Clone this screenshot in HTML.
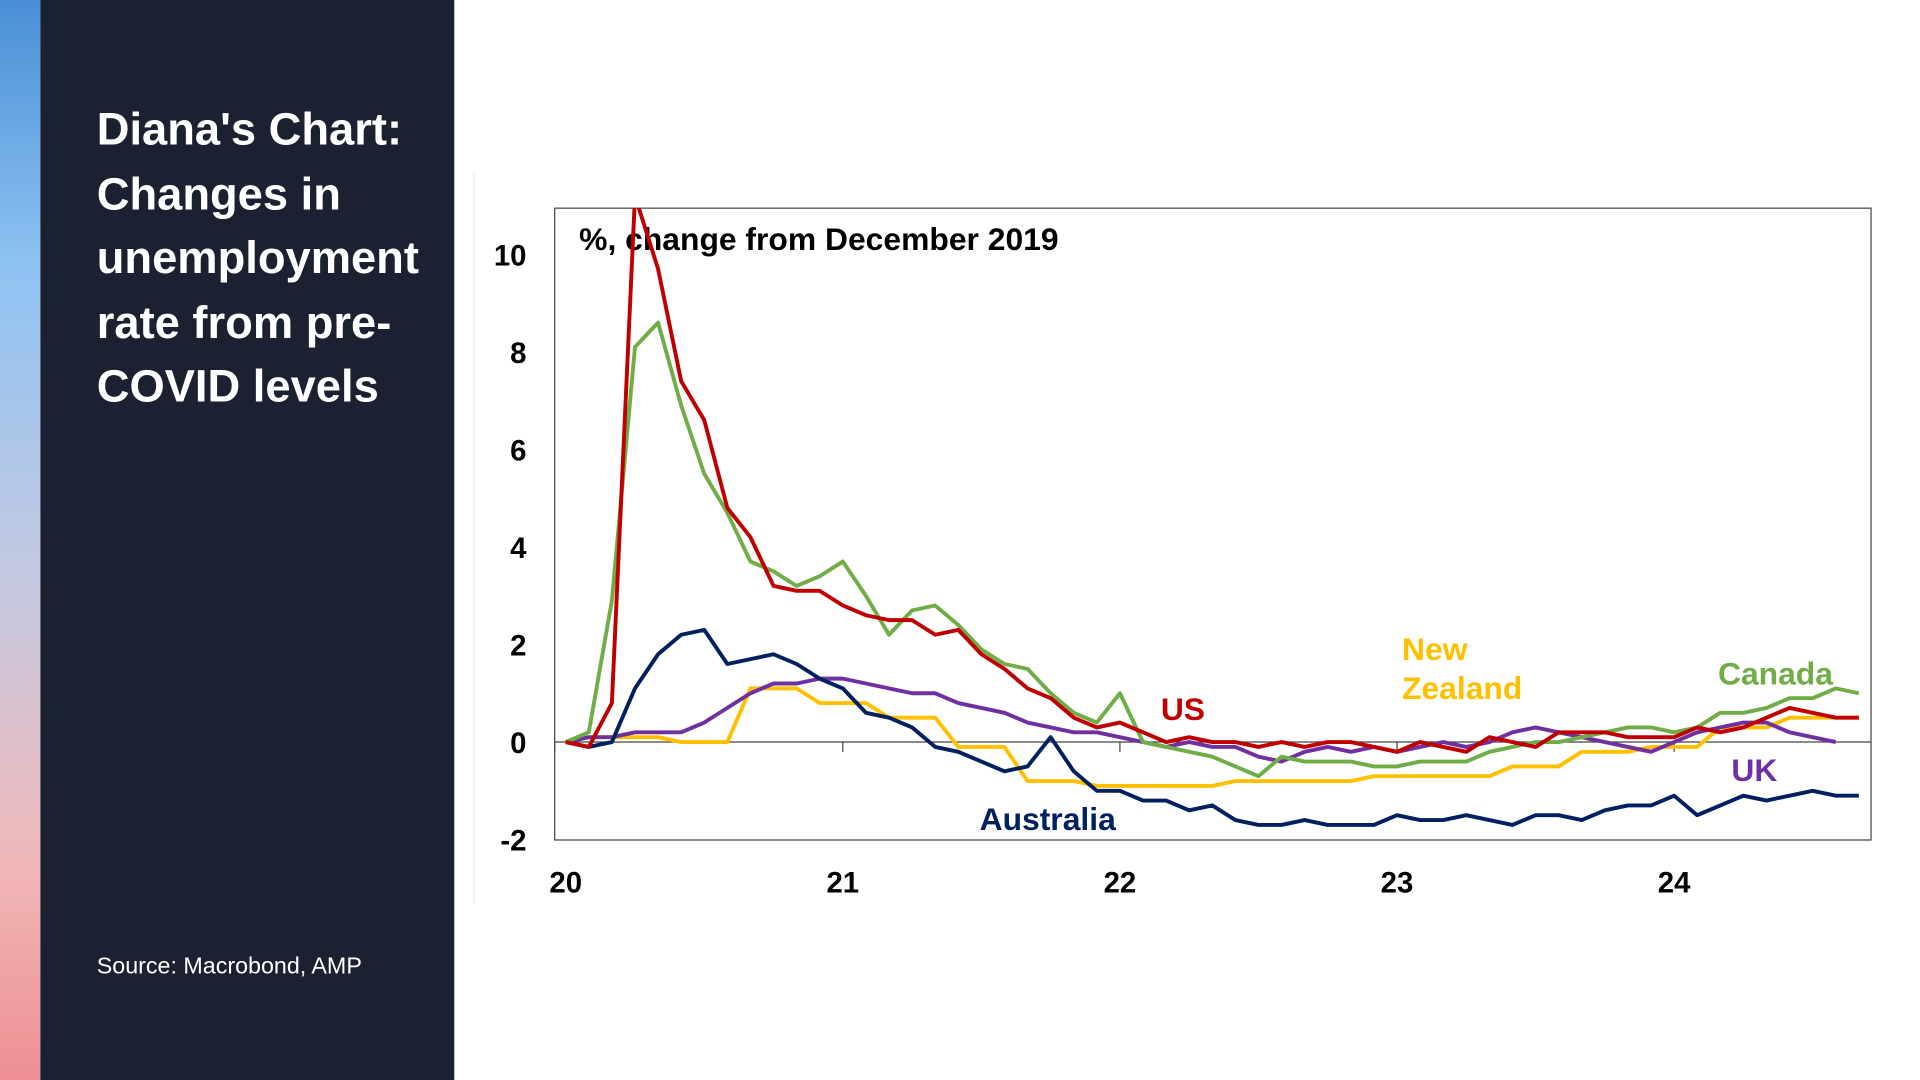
<!DOCTYPE html>
<html><head><meta charset="utf-8"><style>
html,body{margin:0;padding:0;width:1920px;height:1080px;overflow:hidden;background:#fff}
#root{position:absolute;left:0;top:0;width:1568px;height:882px;transform:scale(1.22449);transform-origin:0 0;font-family:"Liberation Sans",sans-serif}
#strip{position:absolute;left:0;top:0;width:33px;height:882px;background:linear-gradient(#4a8fd6,#8fc3f2 25%,#c7c9e0 55%,#f0b8b8 80%,#ee8f93)}
#side{position:absolute;left:33px;top:0;width:338px;height:882px;background:#1b2130}
#title{position:absolute;left:46px;top:80px;color:#fff;font-weight:bold;font-size:37px;line-height:52.5px;letter-spacing:0px}
#src{position:absolute;left:46px;top:779px;color:#fff;font-size:19px}
</style></head><body>
<div id="root">
<div id="strip"></div>
<div id="side">
<div id="title">Diana's Chart:<br>Changes in<br>unemployment<br>rate from pre-<br>COVID levels</div>
<div id="src">Source: Macrobond, AMP</div>
</div>
<svg id="chart" width="1568" height="882" style="position:absolute;left:0;top:0"></svg>
</div>
<script>
const yTicks=[10,8,6,4,2,0,-2];
const xLabels=["20","21","22","23","24"];
const us=[0,-0.1,0.8,11.2,9.7,7.4,6.6,4.8,4.2,3.2,3.1,3.1,2.8,2.6,2.5,2.5,2.2,2.3,1.8,1.5,1.1,0.9,0.5,0.3,0.4,0.2,0.0,0.1,0.0,0.0,-0.1,0.0,-0.1,0.0,0.0,-0.1,-0.2,0.0,-0.1,-0.2,0.1,0.0,-0.1,0.2,0.2,0.2,0.1,0.1,0.1,0.3,0.2,0.3,0.5,0.7,0.6,0.5,0.5];
const canada=[0,0.2,2.9,8.1,8.6,6.9,5.5,4.7,3.7,3.5,3.2,3.4,3.7,3.0,2.2,2.7,2.8,2.4,1.9,1.6,1.5,1.0,0.6,0.4,1.0,0.0,-0.1,-0.2,-0.3,-0.5,-0.7,-0.3,-0.4,-0.4,-0.4,-0.5,-0.5,-0.4,-0.4,-0.4,-0.2,-0.1,0.0,0.0,0.1,0.2,0.3,0.3,0.2,0.3,0.6,0.6,0.7,0.9,0.9,1.1,1.0];
const australia=[0,-0.1,0.0,1.1,1.8,2.2,2.3,1.6,1.7,1.8,1.6,1.3,1.1,0.6,0.5,0.3,-0.1,-0.2,-0.4,-0.6,-0.5,0.1,-0.6,-1.0,-1.0,-1.2,-1.2,-1.4,-1.3,-1.6,-1.7,-1.7,-1.6,-1.7,-1.7,-1.7,-1.5,-1.6,-1.6,-1.5,-1.6,-1.7,-1.5,-1.5,-1.6,-1.4,-1.3,-1.3,-1.1,-1.5,-1.3,-1.1,-1.2,-1.1,-1.0,-1.1,-1.1];
const uk=[0,0.1,0.1,0.2,0.2,0.2,0.4,0.7,1.0,1.2,1.2,1.3,1.3,1.2,1.1,1.0,1.0,0.8,0.7,0.6,0.4,0.3,0.2,0.2,0.1,0.0,-0.1,0.0,-0.1,-0.1,-0.3,-0.4,-0.2,-0.1,-0.2,-0.1,-0.2,-0.1,0.0,-0.1,0.0,0.2,0.3,0.2,0.1,0.0,-0.1,-0.2,0.0,0.2,0.3,0.4,0.4,0.2,0.1,0.0];
const nz=[0,0.1,0.1,0.1,0.1,0.0,0.0,0.0,1.1,1.1,1.1,0.8,0.8,0.8,0.5,0.5,0.5,-0.1,-0.1,-0.1,-0.8,-0.8,-0.8,-0.9,-0.9,-0.9,-0.9,-0.9,-0.9,-0.8,-0.8,-0.8,-0.8,-0.8,-0.8,-0.7,-0.7,-0.7,-0.7,-0.7,-0.7,-0.5,-0.5,-0.5,-0.2,-0.2,-0.2,-0.1,-0.1,-0.1,0.3,0.3,0.3,0.5,0.5,0.5,0.5];
const NS="http://www.w3.org/2000/svg";
const svg=document.getElementById('chart');
const X0=462,MW=226.3/12;
const xm=i=>X0+MW*i;
const y=v=>606-v*39.83;
function mk(t,a,p){const e=document.createElementNS(NS,t);for(const k in a)e.setAttribute(k,a[k]);(p||svg).appendChild(e);return e;}
let e;
e=mk('line',{x1:387,y1:140,x2:387,y2:738,stroke:'#eee','stroke-width':1});

e=mk('rect',{x:453,y:170,width:1075,height:516,fill:'none',stroke:'#444','stroke-width':1});

e=mk('line',{x1:453,y1:y(0),x2:1528,y2:y(0),stroke:'#444','stroke-width':1});

yTicks.forEach(v=>{const t=mk('text',{x:430,y:y(v)+9,'text-anchor':'end','font-size':24,'font-weight':'bold',fill:'#000'});t.textContent=v;
});
xLabels.forEach((l,k)=>{const xx=xm(12*k);
const tk=mk('line',{x1:xx+(k?0:-9),y1:y(0),x2:xx+(k?0:-9),y2:y(0)+8,stroke:'#444'});

const t=mk('text',{x:xx,y:729,'text-anchor':'middle','font-size':24,'font-weight':'bold',fill:'#000'});t.textContent=l;
});
e=mk('text',{x:473,y:204,'font-size':26,'font-weight':'bold',fill:'#000'});e.textContent='%,  change from December 2019';

const series=[['nz',nz,'#ffc000'],['uk',uk,'#7030a0'],['australia',australia,'#002060'],['canada',canada,'#70ad47'],['us',us,'#c00000']];
const clip=mk('clipPath',{id:'cp'});mk('rect',{x:453,y:170,width:1075,height:516},clip);
series.forEach(([n,d,c])=>{const p=mk('polyline',{points:d.map((v,i)=>xm(i)+','+y(v)).join(' '),fill:'none',stroke:c,'stroke-width':3.2,'stroke-linejoin':'round','clip-path':'url(#cp)'});
});
const labels=[['US',948,588,'#c00000'],['New',1145,539,'#ffc000'],['Zealand',1145,571,'#ffc000'],['Canada',1403,559,'#70ad47'],['UK',1414,638,'#7030a0'],['Australia',800,678,'#002060']];
labels.forEach(([s,lx,ly,c])=>{const t=mk('text',{x:lx,y:ly,'font-size':26,'font-weight':'bold',fill:c});t.textContent=s;
});
</script>
</body></html>
